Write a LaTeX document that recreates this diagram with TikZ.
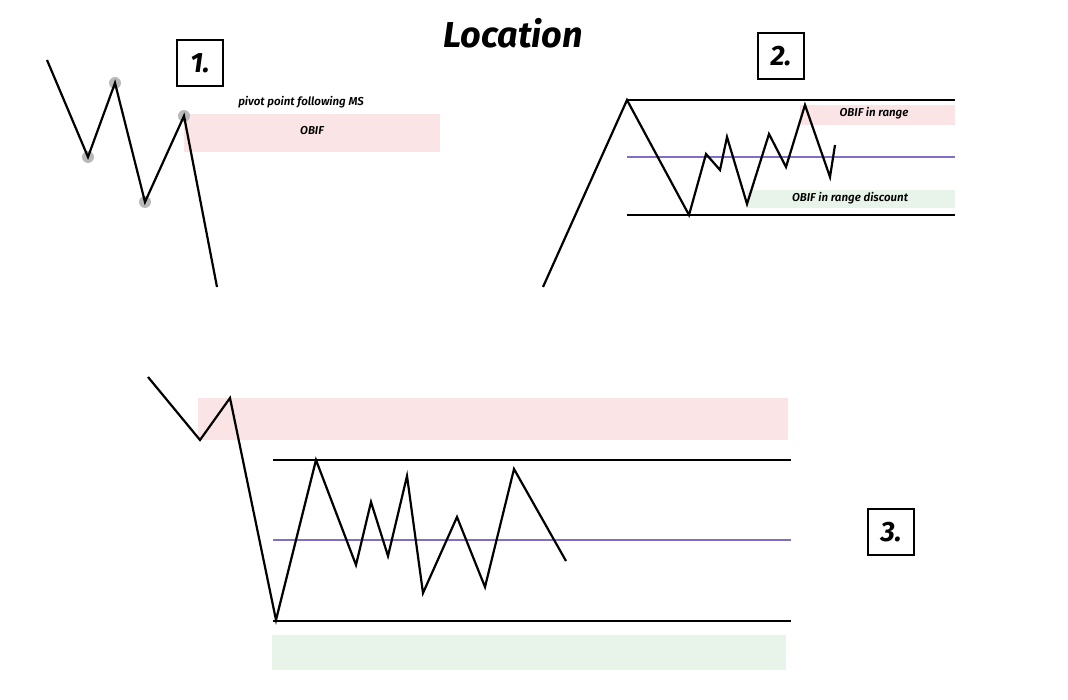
\documentclass[tikz,border=0pt]{standalone}
\usepackage{fontspec}
\setmainfont{Fira Sans}
\newfontfamily\semib{Fira Sans}[UprightFont=* SemiBold,ItalicFont=* SemiBold Italic]
\begin{document}
\begin{tikzpicture}[x=1pt,y=-1pt,
  price/.style={line width=2.2pt,line join=miter},
  lvl/.style={line width=1.2pt},
  mid/.style={line width=1.2pt,draw={rgb,255:red,130;green,110;blue,200}},
  pink/.style={fill={rgb,255:red,250;green,228;blue,230}},
  green/.style={fill={rgb,255:red,232;green,244;blue,234}},
  lbl/.style={font=\semib\itshape\fontsize{11.5}{13}\selectfont},
  numbox/.style={draw,line width=2pt,minimum width=46pt,minimum height=46pt,font=\bfseries\itshape\fontsize{28}{30}\selectfont,inner sep=0pt},
  dot/.style={circle,fill=gray!55,minimum size=12pt,inner sep=0pt}]
\useasboundingbox (0,0) rectangle (1068,700);
\node[font=\bfseries\itshape\fontsize{36}{40}\selectfont] (title) at (513,33) {Location};
% panel 1
\fill[pink] (184,114) rectangle (440,152);
\foreach \n/\p in {a/{(115,83)},b/{(88,157)},c/{(145,202)},d/{(184,116)}} \node[dot] (\n) at \p {};
\draw[price] (47,60) -- (88,157) -- (115,83) -- (145,202) -- (184,116) -- (217,287);
\node[lbl] (obif1) at (312,131) {OBIF};
\node[lbl] (piv) at (301,102) {pivot point following MS};
\node[numbox] (n1) at (200,63) {1.};
% panel 2
\fill[pink] (800,105) rectangle (955,125);
\fill[green] (747,190) rectangle (955,208);
\draw[lvl] (627,100) -- (955,100);
\draw[lvl] (627,215) -- (955,215);
\draw[mid] (627,157) -- (955,157);
\draw[price] (543,287) -- (627,100) -- (689,215) -- (706,154) -- (720,170) -- (727,137) -- (747,204) -- (769,134) -- (786,167) -- (805,105) -- (830,177) -- (835,145);
\node[lbl] (o2) at (874,113) {OBIF in range};
\node[lbl] (o3) at (850,198) {OBIF in range discount};
\node[numbox] (n2) at (781,56) {2.};
% panel 3
\fill[pink] (198,398) rectangle (788,440);
\fill[green] (272,635) rectangle (786,670);
\draw[lvl] (273,460) -- (791,460);
\draw[lvl] (273,621) -- (791,621);
\draw[mid] (273,540) -- (791,540);
\draw[price] (148,377) -- (200,440) -- (230,398) -- (276,620) -- (316,460) -- (356,565) -- (371,502) -- (388,556) -- (407,476) -- (423,593) -- (457,517) -- (485,587) -- (514,469) -- (566,561);
\node[numbox] (n3) at (891,532) {3.};
\end{tikzpicture}
\end{document}
